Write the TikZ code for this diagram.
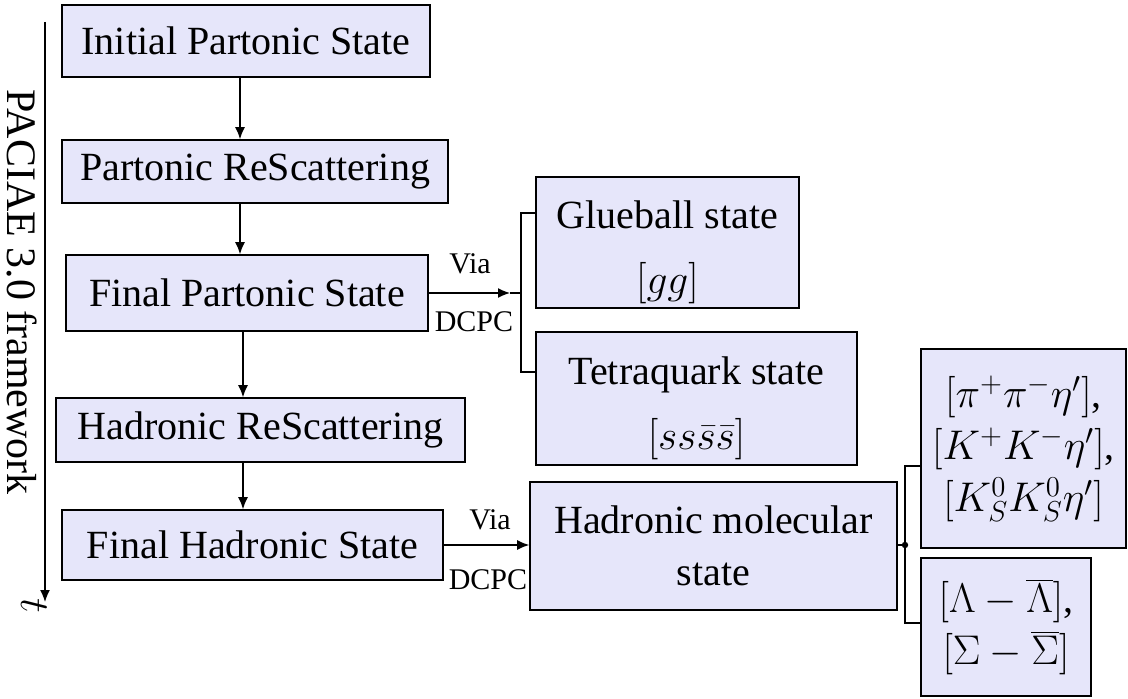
\documentclass[tikz,border=0pt]{standalone}
\usepackage{fontspec}
\setmainfont{Liberation Serif}
\usetikzlibrary{arrows.meta}
\definecolor{boxfill}{RGB}{230,230,250}
\begin{document}
\begin{tikzpicture}[x=0.5pt,y=-0.5pt,
  box/.style={draw=black, line width=0.8pt, fill=boxfill, inner sep=0pt, align=center, font=\fontsize{20}{26}\selectfont},
  arr/.style={-{Latex[length=6pt,width=5pt]}, line width=0.7pt},
  lbl/.style={font=\fontsize{15}{17}\selectfont, inner sep=0pt},
  br/.style={line width=0.7pt}]
\useasboundingbox (0,0) rectangle (1128,699);

% main column
\node[box, minimum width=184pt, minimum height=36pt] (b1) at (246,41) {Initial Partonic State};
\node[box, minimum width=193pt, minimum height=31.5pt] (b2) at (255,171.5) {Partonic ReScattering};
\node[box, minimum width=181pt, minimum height=38pt] (b3) at (247,293) {Final Partonic State};
\node[box, minimum width=204.5pt, minimum height=32pt] (b4) at (260.5,430) {Hadronic ReScattering};
\node[box, minimum width=190.5pt, minimum height=35pt] (b5) at (252.5,545) {Final Hadronic State};

% right boxes
\node[box, font=\fontsize{20}{32.5}\selectfont, minimum width=131.5pt, minimum height=65.5pt] (glue) at (667.5,242.5) {\rule{0pt}{24pt}Glueball state\\$[gg]$};
\node[box, font=\fontsize{20}{32.5}\selectfont, minimum width=160.5pt, minimum height=66.5pt] (tetra) at (696.5,398.5) {\rule{0pt}{24pt}Tetraquark state\\$[ss\bar{s}\bar{s}]$};
\node[box, minimum width=183.5pt, minimum height=64pt] (mol) at (713.5,546) {Hadronic molecular\\state};
\node[box, minimum width=102.5pt, minimum height=99.5pt] (r1) at (1023.5,448.5) {$[\pi^+\pi^-\eta']$,\\$[K^+K^-\eta']$,\\$[K_S^0K_S^0\eta']$};
\node[box, minimum width=85pt, minimum height=69pt] (r2) at (1006,627) {$[\Lambda-\overline{\Lambda}]$,\\$[\Sigma-\overline{\Sigma}]$};

% vertical flow arrows
\coordinate (x1) at (240,0);
\coordinate (x2) at (243,0);
\draw[arr] (b1.south -| x1) -- (b2.north -| x1);
\draw[arr] (b2.south -| x1) -- (b3.north -| x1);
\draw[arr] (b3.south -| x2) -- (b4.north -| x2);
\draw[arr] (b4.south -| x2) -- (b5.north -| x2);

% time axis
\coordinate (ax0) at (45,22);
\coordinate (ax1) at (45,602);
\draw[arr] (ax0) -- (ax1);
\node[rotate=-90, inner sep=0pt, font=\fontsize{20}{24}\selectfont] (tl) at (34,606) {$t$};
\node[rotate=-90, inner sep=0pt, font=\fontsize{21}{24}\selectfont] (fw) at (22,292) {PACIAE 3.0 framework};

% first DCPC branch
\coordinate (a1) at (510,293);
\coordinate (j1) at (521,293);
\coordinate (bt1) at (521,213);
\coordinate (bb1) at (521,372);
\draw[arr] (b3.east) -- (a1);
\draw[br] (a1) -- (j1);
\draw[br] (glue.west |- bt1) -- (bt1) -- (bb1) -- (tetra.west |- bb1);
\node[lbl] (via1) at (470,264) {Via};
\node[lbl] (dcpc1) at (474,322) {DCPC};

% second DCPC branch
\draw[arr] (b5.east) -- (b5.east -| mol.west);
\node[lbl] (via2) at (490,520) {Via};
\node[lbl] (dcpc2) at (488,580) {DCPC};

% bracket to hadronic molecules
\coordinate (j2) at (905,545);
\coordinate (bt2) at (905,466);
\coordinate (bb2) at (905,623);
\draw[br] (mol.east |- j2) -- (j2);
\draw[br] (r1.west |- bt2) -- (bt2) -- (bb2) -- (r2.west |- bb2);
\fill (j2) circle (1.6pt);
\end{tikzpicture}
\end{document}
